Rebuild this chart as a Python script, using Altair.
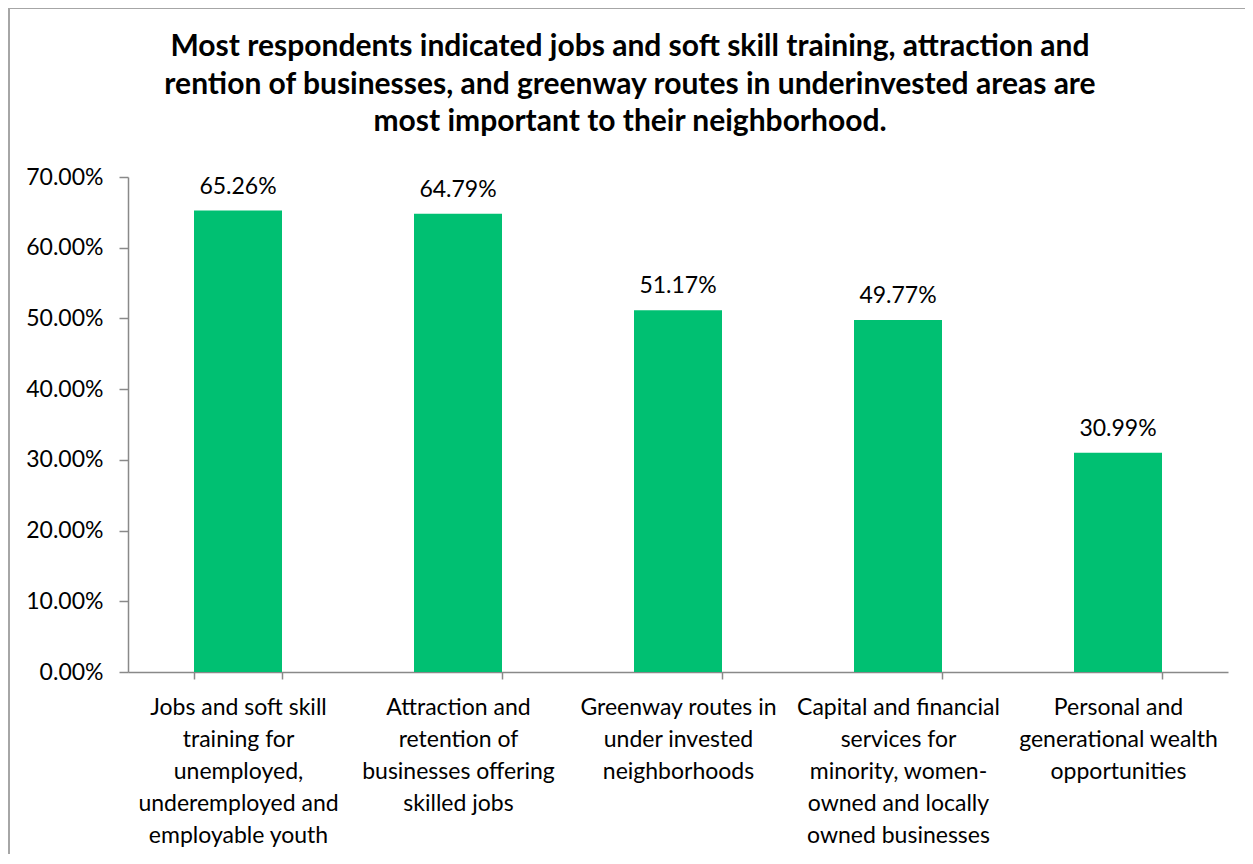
import altair as alt
import pandas as pd

categories = [
    "Jobs and soft skill|training for|unemployed,|underemployed and|employable youth",
    "Attraction and|retention of|businesses offering|skilled jobs",
    "Greenway routes in|under invested|neighborhoods",
    "Capital and financial|services for|minority, women-|owned and locally|owned businesses",
    "Personal and|generational wealth|opportunities",
]
values = [0.6526, 0.6479, 0.5117, 0.4977, 0.3099]
y_ticks = [0, 0.1, 0.2, 0.3, 0.4, 0.5, 0.6, 0.7]
title_text = ("Most respondents indicated jobs and soft skill training, attraction and\n"
              "rention of businesses, and greenway routes in underinvested areas are\n"
              "most important to their neighborhood.")

FONT = "Lato"
GRAY = "#898989"
W, H = 1100, 495
PAD = {"left": 120, "top": 169, "right": 17, "bottom": 182}

df = pd.DataFrame({"cat": categories, "val": values})

base = alt.Chart(df)

x = alt.X("cat:N", sort=None, title=None,
          scale=alt.Scale(paddingInner=0.6, paddingOuter=0.3),
          axis=alt.Axis(labelExpr="split(datum.label, '|')", labelAngle=0,
                        labelFont=FONT, labelFontSize=23, labelColor="#000000",
                        labelLineHeight=32, labelPadding=17, labelLimit=0,
                        labelOverlap=False, tickBand="extent", tickSize=7,
                        tickColor=GRAY, domainColor=GRAY, domainWidth=1.5,
                        tickWidth=1.5))
y = alt.Y("val:Q", title=None,
          scale=alt.Scale(domain=[0, 0.7], nice=False),
          axis=alt.Axis(values=y_ticks, format=".2%", grid=False,
                        labelFont=FONT, labelFontSize=23, labelColor="#000000",
                        labelPadding=16, tickSize=9, tickColor=GRAY,
                        domainColor=GRAY, domainWidth=1.5, tickWidth=1.5))

bars = base.mark_bar(color="#00C072").encode(x=x, y=y)
labels = base.mark_text(font=FONT, fontSize=23, color="#000000",
                        baseline="alphabetic", dy=-17).encode(
    x=alt.X("cat:N", sort=None), y="val:Q", text=alt.Text("val:Q", format=".2%"))

tdf = pd.DataFrame({"t": [title_text]})
title = alt.Chart(tdf).mark_text(font=FONT, fontSize=30, fontWeight="bold",
                                 color="#000000", lineBreak="\n", lineHeight=37.5,
                                 align="center", baseline="middle").encode(
    text="t:N", x=alt.value(502), y=alt.value(-130))

bdf = pd.DataFrame({"b": [1]})
border_top = alt.Chart(bdf).mark_rule(color="#A6A6A6", strokeWidth=2).encode(
    x=alt.value(-120), x2=alt.value(W + 30), y=alt.value(-169))
border_left = alt.Chart(bdf).mark_rule(color="#A6A6A6", strokeWidth=2).encode(
    x=alt.value(-119), y=alt.value(-170), y2=alt.value(H + 200))

chart = alt.layer(bars, labels, title, border_top, border_left).properties(
    width=W, height=H, padding=PAD, background="white",
    autosize=alt.AutoSizeParams(type="none"),
).configure_view(stroke=None, strokeWidth=0)

chart.save("out.html", embed_options={"renderer": "svg", "actions": False})
